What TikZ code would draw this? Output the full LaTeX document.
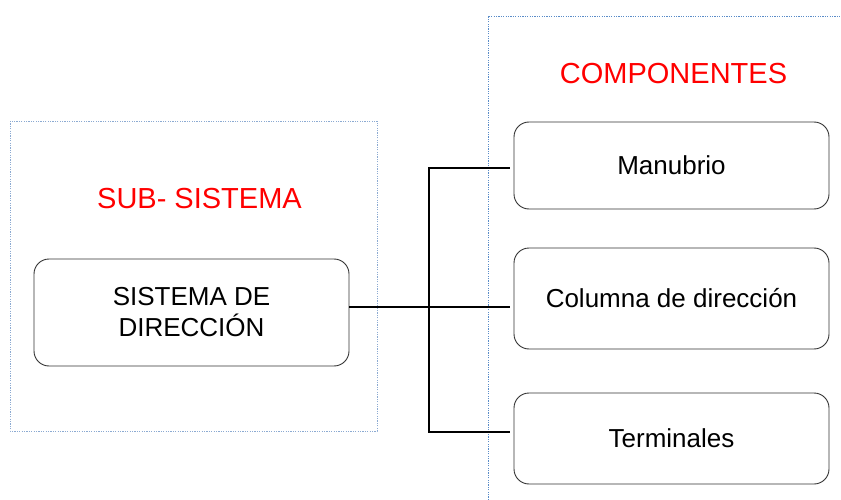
\documentclass[tikz,border=0pt]{standalone}
\usepackage{fontspec}
\setmainfont{Liberation Sans}
\usetikzlibrary{calc}
\definecolor{dotA}{RGB}{140,170,210}
\definecolor{dotB}{RGB}{90,140,200}
\definecolor{titred}{RGB}{255,0,0}
\begin{document}
\begin{tikzpicture}[x=1pt,y=-1pt,
  box/.style={draw=black!80, line width=0.9pt, rounded corners=15pt, align=center,
    font=\fontsize{26}{31}\selectfont, inner sep=0pt},
  frame/.style={line width=0.9pt, dash pattern=on 1.2pt off 1.2pt},
  title/.style={text=titred, font=\fontsize{29}{35}\selectfont, inner sep=0pt},
  link/.style={line width=1.4pt, draw=black}]
\useasboundingbox (0,0) rectangle (841,500);
\draw[frame, draw=dotA] (10,121) rectangle (377,431);
\draw[frame, draw=dotB] (488,500) -- (488,16) -- (841,16);
\node[title] (t1) at (199.5,199) {SUB- SISTEMA};
\node[title] (t2) at (673.5,73.5) {COMPONENTES};
\node[box, minimum width=315pt, minimum height=107pt] (sis) at (191.5,312.5) {SISTEMA DE\\DIRECCIÓN};
\node[box, minimum width=315pt, minimum height=87pt] (man) at (671.5,165.5) {Manubrio};
\node[box, minimum width=315pt, minimum height=101pt] (col) at (671.5,298.5) {Columna de dirección};
\node[box, minimum width=315pt, minimum height=91pt] (ter) at (671.5,438.5) {Terminales};
\coordinate (jt) at (429,168);
\coordinate (jb) at (429,432);
\coordinate (jm) at (429,307);
\draw[link] ($(jt -| man.west)+(-4,0)$) -- (jt) -- (jb) -- ($(jb -| ter.west)+(-4,0)$);
\draw[link] (sis.east |- jm) -- ($(jm -| col.west)+(-4,0)$);
\end{tikzpicture}
\end{document}
